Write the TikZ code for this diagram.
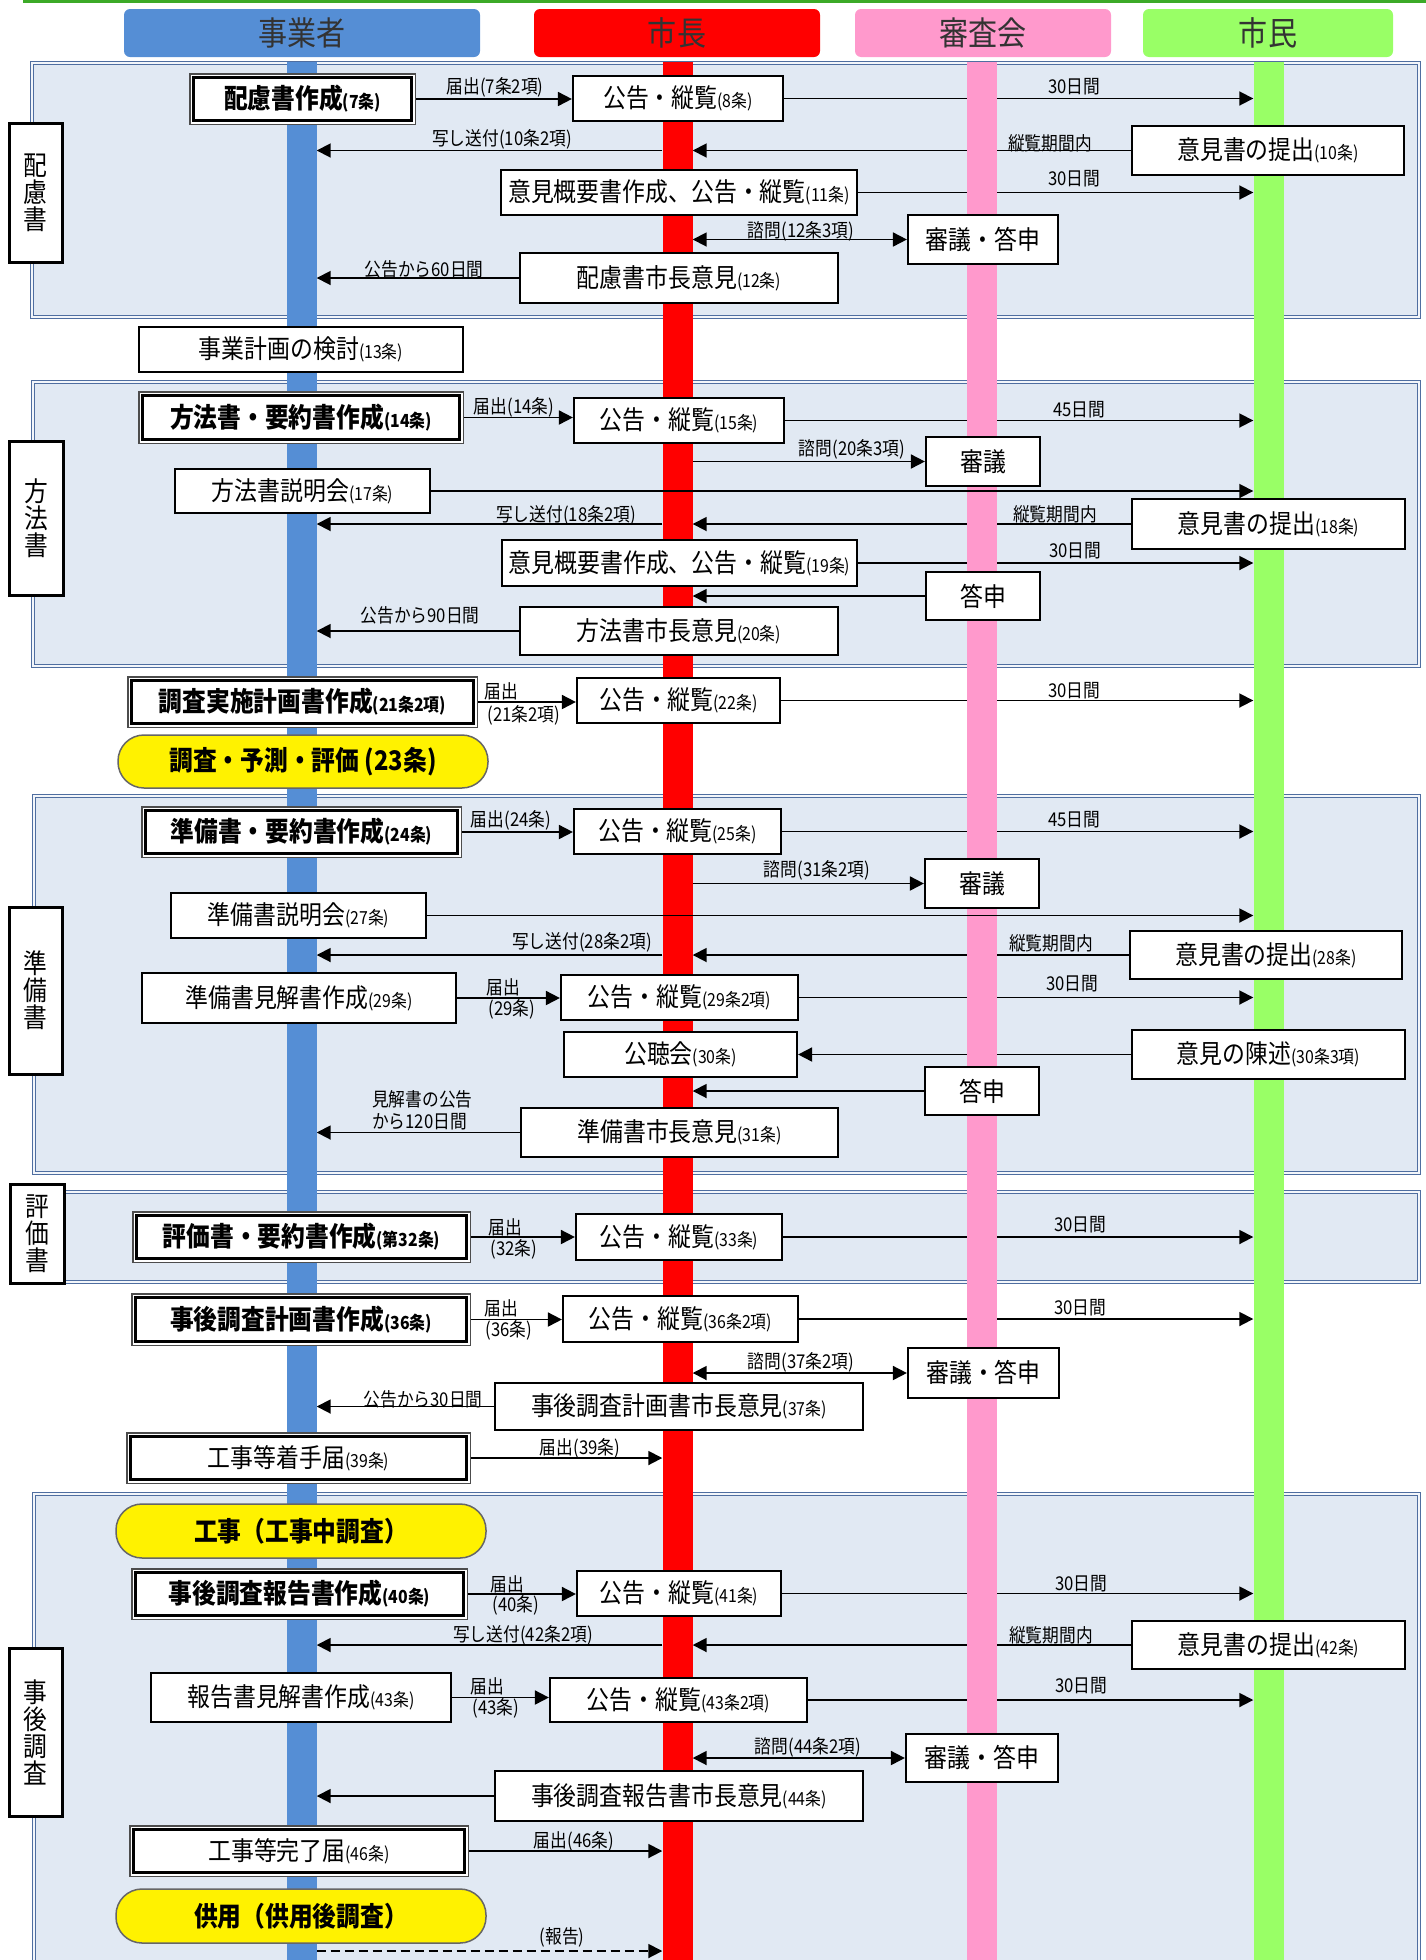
\documentclass[tikz,border=0pt]{standalone}
\usepackage{fontspec}
\setmainfont{Noto Sans CJK JP}[FakeStretch=0.88]
\usetikzlibrary{arrows.meta}
\definecolor{bizblue}{RGB}{85,142,213}
\definecolor{mayorred}{RGB}{255,0,0}
\definecolor{councilpink}{RGB}{255,153,204}
\definecolor{citizengreen}{RGB}{153,255,102}
\definecolor{panelfill}{RGB}{225,233,243}
\definecolor{panelline}{RGB}{79,110,160}
\definecolor{topgreen}{RGB}{60,170,40}
\newcommand{\jo}[1]{{\fontsize{18}{18}\selectfont #1}}
\pgfdeclarelayer{bg}
\pgfdeclarelayer{lines}
\pgfsetlayers{bg,lines,main}

\begin{document}
\begin{tikzpicture}[x=1pt, y=-1pt,
head/.style={rectangle, rounded corners=6pt, minimum height=48pt, text=black!80, font=\fontsize{33}{33}\selectfont},
lane/.style={rectangle, minimum width=30pt, minimum height=1898pt, inner sep=0pt},
panel/.style={fill=panelfill, draw=panelline, line width=1.2pt, double=panelfill!40!white, double distance=2.5pt},
side/.style={draw, line width=3pt, fill=white, align=center, inner sep=0pt, font=\fontsize{27}{27}\selectfont},
act/.style={draw, line width=2.2pt, fill=white, inner sep=0pt, font=\fontsize{26}{26}\selectfont},
dbl/.style={line width=3pt, preaction={draw=black!70, line width=9pt}, preaction={draw=white, line width=6pt}},
heavy/.style={font=\bfseries\fontsize{27}{27}\selectfont},
phase/.style={draw=black!60, line width=1.5pt, fill=yellow, rounded corners=26pt, inner sep=0pt, font=\bfseries\fontsize{27}{27}\selectfont},
sz/.style 2 args={minimum width=#1pt, minimum height=#2pt},
lbl/.style={inner sep=0pt, font=\fontsize{19}{22}\selectfont},
arr/.style={line width=1.8pt, -{Triangle[length=14pt,width=14pt]}},
darr/.style={line width=1.8pt, {Triangle[length=14pt,width=14pt]}-{Triangle[length=14pt,width=14pt]}},
]
\useasboundingbox (0,0) rectangle (1426,1960);
\draw[line width=3pt, draw=topgreen] (23,1) -- (1426,1);

% panels
\begin{pgfonlayer}{bg}
\draw[panel] (32,63) rectangle (1419,317);
\draw[panel] (33,382) rectangle (1419,666);
\draw[panel] (34,796) rectangle (1419,1173);
\draw[panel] (34,1192) rectangle (1419,1282);
\draw[panel] (34,1494) rectangle (1419,1985);
\end{pgfonlayer}

% heads and lanes
\foreach \nm/\hx/\hw/\lx/\c/\t in {biz/302/356/301.5/bizblue/事業者, mayor/677/286/677.5/mayorred/市長, council/983/256/981.5/councilpink/審査会, citizen/1268/250/1268.5/citizengreen/市民}{
  \node (h\nm) at (\hx,33) [head, minimum width=\hw pt, fill=\c] {\t};
  \node (L\nm) at (\lx,1011) [lane, fill=\c] {};
}

\node (sHairyo) at (35.5,192.5) [side, sz={53}{139}] {配\\慮\\書};
\node (sHoho) at (36,518) [side, sz={54}{154}] {方\\法\\書};
\node (sJunbi) at (35.5,990.5) [side, sz={53}{167}] {準\\備\\書};
\node (sHyoka) at (37,1233.5) [side, sz={54}{99}] {評\\価\\書};
\node (sJigo) at (35.5,1732) [side, sz={53}{168}] {事\\後\\調\\査};

% 配慮書
\node (hairyo) at (302.5,99) [act, dbl, heavy, sz={218}{43}] {配慮書作成\jo{(7条)}};
\node (kokoku8) at (678,98.5) [act, sz={210}{45}] {公告・縦覧\jo{(8条)}};
\node (iken10) at (1268,150.5) [act, sz={272}{49}] {意見書の提出\jo{(10条)}};
\node (gaiyo11) at (679,192.5) [act, sz={356}{45}] {意見概要書作成、公告・縦覧\jo{(11条)}};
\node (shingi12) at (983,239.5) [act, sz={150}{49}] {審議・答申};
\node (mayor12) at (679,278) [act, sz={318}{50}] {配慮書市長意見\jo{(12条)}};
\node (keikaku13) at (301,349.5) [act, sz={324}{45}] {事業計画の検討\jo{(13条)}};

% 方法書
\node (hoho14) at (301,417.5) [act, dbl, heavy, sz={317}{44}] {方法書・要約書作成\jo{(14条)}};
\node (kokoku15) at (679,420.5) [act, sz={210}{45}] {公告・縦覧\jo{(15条)}};
\node (shingi20) at (983,461.5) [act, sz={114}{49}] {審議};
\node (setsumei17) at (302.5,491) [act, sz={255}{44}] {方法書説明会\jo{(17条)}};
\node (iken18) at (1268.5,524) [act, sz={273}{50}] {意見書の提出\jo{(18条)}};
\node (gaiyo19) at (679.5,563) [act, sz={355}{46}] {意見概要書作成、公告・縦覧\jo{(19条)}};
\node (toshin20) at (983,596) [act, sz={114}{48}] {答申};
\node (mayor20) at (679,631) [act, sz={318}{48}] {方法書市長意見\jo{(20条)}};

\node (chosa21) at (302.5,702) [act, dbl, heavy, sz={342}{43}] {調査実施計画書作成\jo{(21条2項)}};
\node (kokoku22) at (678.5,700.5) [act, sz={203}{45}] {公告・縦覧\jo{(22条)}};
\node (yosoku23) at (303,761.5) [phase, sz={370}{53}] {調査・予測・評価 (23条)};

% 準備書
\node (junbi24) at (301.5,832) [act, dbl, heavy, sz={312}{43}] {準備書・要約書作成\jo{(24条)}};
\node (kokoku25) at (677.5,831.5) [act, sz={207}{45}] {公告・縦覧\jo{(25条)}};
\node (shingi31) at (982,883.5) [act, sz={114}{49}] {審議};
\node (setsumei27) at (298.5,915.5) [act, sz={255}{45}] {準備書説明会\jo{(27条)}};
\node (iken28) at (1266,955) [act, sz={272}{48}] {意見書の提出\jo{(28条)}};
\node (kenkai29) at (299,998) [act, sz={314}{50}] {準備書見解書作成\jo{(29条)}};
\node (kokoku29) at (679.5,997.5) [act, sz={237}{45}] {公告・縦覧\jo{(29条2項)}};
\node (kochokai30) at (680.5,1054.5) [act, sz={233}{45}] {公聴会\jo{(30条)}};
\node (chinjutsu30) at (1268.5,1054.5) [act, sz={273}{49}] {意見の陳述\jo{(30条3項)}};
\node (toshin31) at (982,1091) [act, sz={114}{48}] {答申};
\node (mayor31) at (679.5,1132.5) [act, sz={317}{49}] {準備書市長意見\jo{(31条)}};

% 評価書
\node (hyoka32) at (301.5,1237) [act, dbl, heavy, sz={330}{43}] {評価書・要約書作成\jo{(第32条)}};
\node (kokoku33) at (679,1237) [act, sz={206}{46}] {公告・縦覧\jo{(33条)}};

\node (jigo36) at (301,1319.5) [act, dbl, heavy, sz={331}{44}] {事後調査計画書作成\jo{(36条)}};
\node (kokoku36) at (680.5,1319) [act, sz={235}{46}] {公告・縦覧\jo{(36条2項)}};
\node (shingi37) at (983.5,1373) [act, sz={151}{50}] {審議・答申};
\node (mayor37) at (679,1406.5) [act, sz={368}{47}] {事後調査計画書市長意見\jo{(37条)}};
\node (chakushu39) at (298.5,1458) [act, dbl, sz={336}{43}] {工事等着手届\jo{(39条)}};

% 事後調査
\node (koji) at (301,1531) [phase, sz={370}{54}] {工事（工事中調査）};
\node (hokoku40) at (299.5,1594) [act, dbl, heavy, sz={328}{43}] {事後調査報告書作成\jo{(40条)}};
\node (kokoku41) at (679,1593.5) [act, sz={204}{45}] {公告・縦覧\jo{(41条)}};
\node (iken42) at (1268.5,1645) [act, sz={273}{48}] {意見書の提出\jo{(42条)}};
\node (kenkai43) at (301,1697.5) [act, sz={300}{49}] {報告書見解書作成\jo{(43条)}};
\node (kokoku43) at (678.5,1700) [act, sz={257}{44}] {公告・縦覧\jo{(43条2項)}};
\node (shingi44) at (982,1758) [act, sz={152}{48}] {審議・答申};
\node (mayor44) at (679,1796) [act, sz={368}{50}] {事後調査報告書市長意見\jo{(44条)}};
\node (kanryo46) at (299,1851) [act, dbl, sz={331}{43}] {工事等完了届\jo{(46条)}};
\node (kyoyo) at (301,1916) [phase, sz={370}{54}] {供用（供用後調査）};
\coordinate (rep) at ([yshift=-35pt]kyoyo.center);

% labels
\node (t7) at (495,87) [lbl] {届出(7条2項)};
\node (t8) at (1074,87) [lbl] {30日間};
\node (t10a) at (1050,143) [lbl] {縦覧期間内};
\node (t10b) at (502,139.5) [lbl] {写し送付(10条2項)};
\node (t11) at (1074,179) [lbl] {30日間};
\node (t12a) at (801,231) [lbl] {諮問(12条3項)};
\node (t12b) at (424,269.5) [lbl] {公告から60日間};

\node (t14) at (514,407.5) [lbl] {届出(14条)};
\node (t15) at (1079,409.5) [lbl] {45日間};
\node (t20a) at (852,449.5) [lbl] {諮問(20条3項)};
\node (t18b) at (566,515) [lbl] {写し送付(18条2項)};
\node (t18a) at (1055,514) [lbl] {縦覧期間内};
\node (t19) at (1075,551) [lbl] {30日間};
\node (t20b) at (420,615) [lbl] {公告から90日間};
\node (t21a) at (501,691) [lbl] {届出};
\node (t21b) at (524,715) [lbl] {(21条2項)};
\node (t22) at (1074,691) [lbl] {30日間};

\node (t24) at (511,820) [lbl] {届出(24条)};
\node (t25) at (1074,820) [lbl] {45日間};
\node (t31a) at (817,870) [lbl] {諮問(31条2項)};
\node (t28b) at (582,942) [lbl] {写し送付(28条2項)};
\node (t28a) at (1051,943) [lbl] {縦覧期間内};
\node (t29a) at (503,987) [lbl] {届出};
\node (t29b) at (512,1009.5) [lbl] {(29条)};
\node (t29c) at (1072,984) [lbl] {30日間};
\node (t31b) at (372,1110.5) [lbl, anchor=west, align=left] {見解書の公告\\から120日間};

\node (t32a) at (505,1227) [lbl] {届出};
\node (t32b) at (514,1249.5) [lbl] {(32条)};
\node (t33) at (1080,1225) [lbl] {30日間};
\node (t36a) at (501,1308) [lbl] {届出};
\node (t36b) at (509,1330) [lbl] {(36条)};
\node (t36c) at (1080,1308) [lbl] {30日間};
\node (t37a) at (801,1362) [lbl] {諮問(37条2項)};
\node (t37b) at (423,1399) [lbl] {公告から30日間};
\node (t39) at (580,1448) [lbl] {届出(39条)};

\node (t40a) at (507,1584) [lbl] {届出};
\node (t40b) at (516,1605) [lbl] {(40条)};
\node (t41) at (1081,1584) [lbl] {30日間};
\node (t42b) at (523,1635) [lbl] {写し送付(42条2項)};
\node (t42a) at (1051,1635) [lbl] {縦覧期間内};
\node (t43a) at (487,1686) [lbl] {届出};
\node (t43b) at (496,1708) [lbl] {(43条)};
\node (t43c) at (1081,1686) [lbl] {30日間};
\node (t44) at (808,1747) [lbl] {諮問(44条2項)};
\node (t46) at (574,1841) [lbl] {届出(46条)};
\node (trep) at (562,1937) [lbl] {(報告)};

% connectors under the lanes
\begin{pgfonlayer}{lines}
\draw[arr] (hairyo.east) -- (hairyo.east -| kokoku8.west);
\draw[arr] (kokoku8.east) -- (kokoku8.east -| Lcitizen.west);
\draw[arr] (iken10.west) -- (iken10.west -| Lmayor.east);
\draw[arr] (iken10.west -| Lmayor.west) -- (iken10.west -| Lbiz.east);
\draw[arr] (gaiyo11.east) -- (gaiyo11.east -| Lcitizen.west);
\draw[darr] (shingi12.west -| Lmayor.east) -- (shingi12.west);
\draw[arr] (mayor12.west) -- (mayor12.west -| Lbiz.east);

\draw[arr] (hoho14.east) -- (hoho14.east -| kokoku15.west);
\draw[arr] (kokoku15.east) -- (kokoku15.east -| Lcitizen.west);
\draw[arr] (shingi20.west -| Lmayor.east) -- (shingi20.west);
\draw[arr] (iken18.west) -- (iken18.west -| Lmayor.east);
\draw[arr] (iken18.west -| Lmayor.west) -- (iken18.west -| Lbiz.east);
\draw[arr] (gaiyo19.east) -- (gaiyo19.east -| Lcitizen.west);
\draw[arr] (toshin20.west) -- (toshin20.west -| Lmayor.east);
\draw[arr] (mayor20.west) -- (mayor20.west -| Lbiz.east);
\draw[arr] (chosa21.east) -- (chosa21.east -| kokoku22.west);
\draw[arr] (kokoku22.east) -- (kokoku22.east -| Lcitizen.west);

\draw[arr] (junbi24.east) -- (junbi24.east -| kokoku25.west);
\draw[arr] (kokoku25.east) -- (kokoku25.east -| Lcitizen.west);
\draw[arr] (shingi31.west -| Lmayor.east) -- (shingi31.west);
\draw[arr] (iken28.west) -- (iken28.west -| Lmayor.east);
\draw[arr] (iken28.west -| Lmayor.west) -- (iken28.west -| Lbiz.east);
\draw[arr] (kenkai29.east) -- (kenkai29.east -| kokoku29.west);
\draw[arr] (kokoku29.east) -- (kokoku29.east -| Lcitizen.west);
\draw[arr] (chinjutsu30.west) -- (chinjutsu30.west -| kochokai30.east);
\draw[arr] (toshin31.west) -- (toshin31.west -| Lmayor.east);
\draw[arr] (mayor31.west) -- (mayor31.west -| Lbiz.east);

\draw[arr] (hyoka32.east) -- (hyoka32.east -| kokoku33.west);
\draw[arr] (kokoku33.east) -- (kokoku33.east -| Lcitizen.west);
\draw[arr] (jigo36.east) -- (jigo36.east -| kokoku36.west);
\draw[arr] (kokoku36.east) -- (kokoku36.east -| Lcitizen.west);
\draw[darr] (shingi37.west -| Lmayor.east) -- (shingi37.west);
\draw[arr] (mayor37.west) -- (mayor37.west -| Lbiz.east);
\draw[arr] (chakushu39.east) -- (chakushu39.east -| Lmayor.west);

\draw[arr] (hokoku40.east) -- (hokoku40.east -| kokoku41.west);
\draw[arr] (kokoku41.east) -- (kokoku41.east -| Lcitizen.west);
\draw[arr] (iken42.west) -- (iken42.west -| Lmayor.east);
\draw[arr] (iken42.west -| Lmayor.west) -- (iken42.west -| Lbiz.east);
\draw[arr] (kenkai43.east) -- (kenkai43.east -| kokoku43.west);
\draw[arr] (kokoku43.east) -- (kokoku43.east -| Lcitizen.west);
\draw[darr] (shingi44.west -| Lmayor.east) -- (shingi44.west);
\draw[arr] (mayor44.west) -- (mayor44.west -| Lbiz.east);
\draw[arr] (kanryo46.east) -- (kanryo46.east -| Lmayor.west);
\draw[arr, dash pattern=on 9pt off 5pt] (rep -| Lbiz.east) -- (rep -| Lmayor.west);
\end{pgfonlayer}

% these two cross over the lanes
\draw[arr] (setsumei17.east) -- (setsumei17.east -| Lcitizen.west);
\draw[arr] (setsumei27.east) -- (setsumei27.east -| Lcitizen.west);

\end{tikzpicture}
\end{document}
